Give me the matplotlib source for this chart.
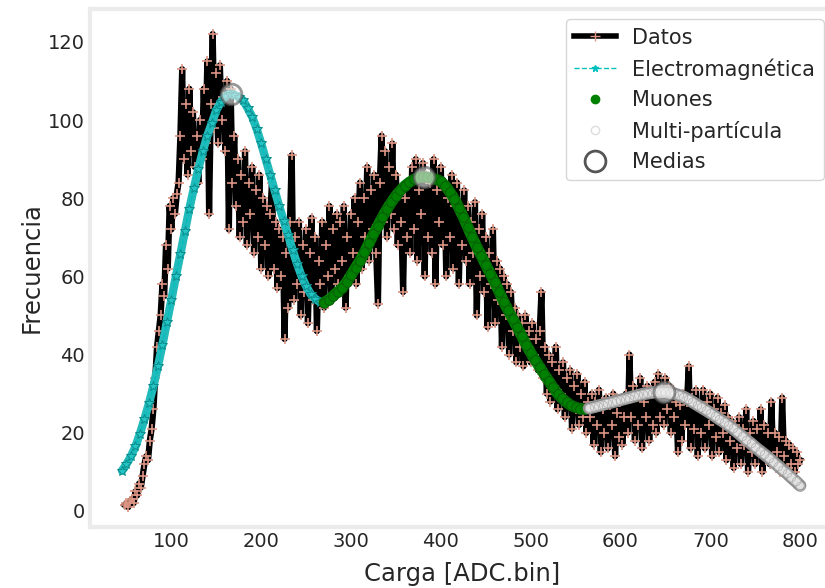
import numpy as np
import matplotlib
matplotlib.use("Agg")
import matplotlib.pyplot as plt
from matplotlib.lines import Line2D

# histogram data (bins every 2 ADC counts starting at 48)
datos = [
    1.5, 2, 1, 2.5, 3, 2, 5, 4, 7, 6,
    9, 12, 14, 13, 18, 21, 26, 34, 42, 46,
    50, 58, 55, 68, 62, 78, 72, 80, 76, 81,
    84, 96, 113, 90, 104, 86, 108, 92, 102, 88,
    96, 84, 100, 90, 108, 94, 115, 76, 104, 122,
    98, 112, 94, 114, 100, 106, 92, 110, 72, 108,
    84, 96, 78, 90, 70, 86, 74, 92, 68, 84,
    76, 88, 66, 82, 70, 86, 62, 80, 68, 78,
    60, 76, 84, 62, 74, 57, 72, 60, 70, 44,
    66, 52, 74, 91, 54, 70, 58, 74, 50, 68,
    56, 72, 48, 66, 75, 54, 70, 46, 64, 58,
    74, 52, 68, 60, 78, 54, 72, 62, 76, 58,
    74, 64, 78, 52, 70, 60, 76, 66, 80, 58,
    74, 84, 62, 80, 70, 88, 64, 82, 72, 86,
    66, 53, 84, 96, 74, 92, 70, 88, 76, 94,
    72, 86, 68, 82, 74, 56, 80, 70, 84, 66,
    88, 72, 90, 64, 82, 76, 89, 60, 86, 70,
    84, 66, 90, 58, 82, 74, 88, 68, 84, 60,
    80, 70, 86, 62, 78, 84, 58, 76, 68, 82,
    64, 78, 58, 74, 66, 79, 50, 72, 60, 76,
    56, 70, 47, 66, 58, 72, 48, 64, 54, 62,
    42, 60, 50, 58, 40, 56, 46, 52, 38, 50,
    42, 48, 37, 50, 44, 46, 38, 48, 40, 44,
    36, 46, 56, 34, 42, 30, 40, 28, 38, 32,
    42, 26, 36, 30, 38, 24, 34, 28, 36, 21,
    32, 26, 35, 22, 30, 24, 33, 20, 28, 24,
    30, 17, 28, 22, 31, 15, 26, 20, 29, 16,
    27, 22, 30, 14, 25, 19, 28, 17, 24, 30,
    20, 40, 24, 32, 18, 30, 22, 34, 16, 28,
    24, 32, 18, 30, 22, 33, 20, 35, 24, 31,
    22, 34, 26, 32, 20, 30, 24, 28, 15, 27,
    18, 30, 22, 28, 37, 16, 29, 21, 31, 14,
    27, 20, 31, 16, 28, 22, 30, 14, 26, 19,
    29, 15, 25, 20, 27, 13, 24, 18, 23, 11,
    22, 16, 24, 12, 21, 17, 26, 10, 20, 15,
    23, 12, 21, 16, 26, 10, 22, 14, 20, 12,
    28, 13, 20, 15, 19, 10, 29, 14, 18, 11,
    17, 12, 16, 10, 15, 12, 13,
]
x_datos = 48 + 2 * np.arange(len(datos))

# fitted components (every 5 ADC counts)
x_em = np.arange(45, 270, 5)
electro = [
    10.3, 12.0, 14.0, 16.5, 19.8, 23.5, 27.5, 32.0, 37.0, 42.5, 48.3, 54.0, 60.0, 65.7, 71.5,
    77.3, 82.5, 87.5, 92.0, 96.0, 99.2, 102.5, 104.6, 106.1, 106.7, 106.5, 105.8, 105.0, 103.0, 100.8,
    97.7, 94.0, 90.0, 86.0, 82.0, 78.0, 74.3, 70.5, 66.7, 63.2, 60.0, 57.5, 55.5, 54.3, 53.5,
]
x_mu = np.arange(270, 565, 5)
muones = [
    53.3, 54.0, 55.0, 56.0, 57.0, 58.5, 60.3, 62.2, 64.0, 66.2, 68.5, 70.8, 73.0, 75.2, 77.2,
    79.0, 80.6, 82.0, 83.2, 84.1, 84.8, 85.3, 85.5, 85.4, 85.1, 84.8, 84.3, 83.2, 81.6, 79.8,
    77.6, 75.2, 72.6, 70.0, 67.5, 65.3, 63.0, 60.7, 58.5, 56.0, 53.5, 51.3, 49.2, 47.0, 44.8,
    42.5, 40.5, 38.6, 36.8, 35.0, 33.3, 31.6, 30.0, 28.8, 27.8, 27.0, 26.5, 26.2, 26.0,
]
x_multi = np.arange(565, 805, 5)
multi = [
    26.3, 26.6, 26.9, 27.2, 27.5, 27.8, 28.1, 28.4, 28.7, 29.0, 29.3, 29.6, 29.9, 30.1, 30.3,
    30.4, 30.5, 30.5, 30.3, 30.0, 29.6, 29.2, 28.6, 27.9, 27.2, 26.5, 25.8, 25.1, 24.3, 23.5,
    22.8, 22.0, 21.1, 20.2, 19.2, 18.2, 17.3, 16.3, 15.4, 14.5, 13.6, 12.6, 11.6, 10.6, 9.7,
    8.6, 7.6, 6.5,
]
medias_x = [166, 381, 648]
medias_y = [106.7, 85.5, 30.5]

txt = "#262626"
fig = plt.figure(figsize=(8.25, 5.88), dpi=100)
ax = fig.add_axes([90 / 825, 61 / 588, 744 / 825, 518 / 588])

ax.plot(x_datos, datos, color="black", lw=4.5, marker="+", ms=7, mec="#dc9584", mew=1.2, zorder=2)

# fit bands (thick line under the markers)
ax.plot(x_em, electro, color="#22baba", lw=6, solid_capstyle="round", zorder=3)
ax.plot(x_em, electro, color="c", ls="--", lw=1, marker="*", ms=7, mfc="#22c4c4", mec="#0b8c8c", mew=0.7, zorder=3)
ax.plot(x_mu, muones, color="green", lw=8, solid_capstyle="round", zorder=3)
ax.plot(x_mu, muones, ls="none", marker="o", ms=7, mfc="green", mec="#0a560a", mew=0.6, zorder=3)
ax.plot(x_multi, multi, color="#8f8f8f", lw=9, solid_capstyle="round", zorder=3)
ax.plot(x_multi, multi, color="#e2e2e2", lw=5.5, solid_capstyle="round", zorder=3)
ax.plot(x_multi, multi, ls="none", marker="o", ms=6, mfc="none", mec="#b5b5b5", mew=0.6, zorder=3)
ax.plot(medias_x, medias_y, ls="none", marker="o", ms=15, mfc="#f2f2f2", mec="#555555", mew=2, alpha=0.6, zorder=4)

ax.set_xlim(9.4, 837.7)
ax.set_ylim(-4.1, 128.4)
ax.set_xticks([100, 200, 300, 400, 500, 600, 700, 800])
ax.set_yticks([0, 20, 40, 60, 80, 100, 120])
ax.tick_params(length=0, labelsize=14, labelcolor=txt, pad=3.5)
for s in ax.spines.values():
    s.set_color("#ebebeb")
    s.set_linewidth(3)
ax.set_xlabel("Carga [ADC.bin]", fontsize=17.5, color=txt, labelpad=8)
ax.set_ylabel("Frecuencia", fontsize=17.5, color=txt, labelpad=3)

handles = [
    Line2D([], [], color="black", lw=4, marker="+", ms=7, mec="#dc9584"),
    Line2D([], [], color="c", ls="--", lw=1, marker="*", ms=5),
    Line2D([], [], ls="none", marker="o", ms=6, color="green"),
    Line2D([], [], ls="none", marker="o", ms=6, mfc="white", mec="#dddddd"),
    Line2D([], [], ls="none", marker="o", ms=15, mfc="white", mec="#555555", mew=2),
]
labels = ["Datos", "Electromagnética", "Muones", "Multi-partícula", "Medias"]
leg = ax.legend(handles, labels, loc="upper right", fontsize=15, handlelength=2.0,
                handletextpad=0.8, labelspacing=0.5, borderaxespad=0.5)
for t in leg.get_texts():
    t.set_color(txt)

fig.savefig("out.png", dpi=100)
